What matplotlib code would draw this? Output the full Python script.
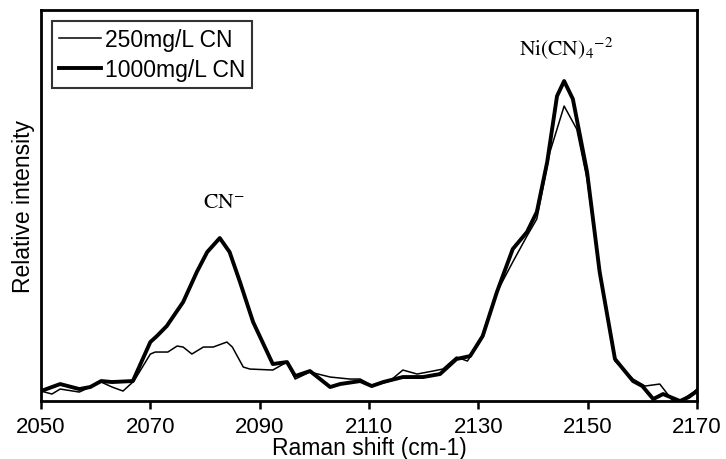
import numpy as np
import matplotlib
matplotlib.use('Agg')
import matplotlib.pyplot as plt

# values (relative intensity, arbitrary units)
shift_thin = [2050, 2052, 2053.5, 2057, 2061, 2063, 2065, 2067, 2070, 2070.9, 2073.2, 2074.9, 2076,
              2077.6, 2079.7, 2081.5, 2084, 2085, 2087, 2088.2, 2092.4, 2095, 2096.5, 2099.2, 2102.9,
              2106.5, 2108.4, 2110.7, 2113.8, 2116.2, 2118.8, 2121.7, 2123.5, 2126, 2128, 2130.3,
              2133.4, 2136.3, 2138.9, 2140.7, 2143.1, 2145.7, 2148, 2149.9, 2152.2, 2155, 2158.3,
              2160.5, 2163.2, 2165.6, 2166.9, 2169.4, 2170]
int_thin = [10, 7, 12, 9, 19, 14, 10, 20, 47, 49, 49, 55, 54,
            47, 54, 54, 59, 54, 34, 32, 31, 39, 22, 29, 24,
            22, 22, 15, 20, 31, 27, 30, 32, 44, 40, 59,
            109, 139, 165, 182, 249, 295, 272, 222, 129, 40, 22,
            15, 17, 0, 0, 9, 12]

shift_thick = [2050, 2053.5, 2057, 2059, 2061, 2063, 2066.8, 2070, 2071.2, 2073, 2076, 2078.5,
               2080.4, 2082.7, 2084.5, 2086.4, 2088.8, 2092.4, 2095, 2096.5, 2099.2, 2102.9,
               2104.7, 2108.4, 2110.5, 2112.6, 2116.2, 2119.9, 2123, 2126, 2128.5, 2130.8,
               2133.4, 2136.3, 2138.9, 2140.7, 2142.6, 2144.4, 2145.7, 2147.3, 2149.9, 2152.2,
               2155, 2158.3, 2160, 2162, 2163.8, 2166.9, 2168.5, 2170]
int_thick = [10, 17, 12, 14, 20, 19, 20, 59, 65, 75, 99, 129,
             149, 163, 149, 119, 79, 37, 39, 25, 30, 14,
             17, 20, 15, 19, 24, 24, 27, 42, 45, 65,
             109, 152, 169, 189, 239, 305, 320, 302, 229, 129,
             42, 20, 15, 2, 7, 0, 4, 10]

xticks = [2050, 2070, 2090, 2110, 2130, 2150, 2170]

plt.rcParams['font.family'] = ['Liberation Sans', 'DejaVu Sans']
plt.rcParams['mathtext.fontset'] = 'stix'

fig = plt.figure(figsize=(7.26, 4.6), dpi=100)
ax = fig.add_axes([0.0565, 0.126, 0.9035, 0.85])

ax.plot(shift_thin, int_thin, color='black', lw=1.1, label='250mg/L CN')
ax.plot(shift_thick, int_thick, color='black', lw=2.8, label='1000mg/L CN')

ax.set_xlim(2050, 2170)
ax.set_ylim(0, 391)
ax.set_xticks(xticks)
ax.set_yticks([])
ax.tick_params(axis='x', direction='out', length=6, width=1.8, labelsize=16, pad=5)
for s in ax.spines.values():
    s.set_linewidth(2)

ax.set_xlabel('Raman shift (cm-1)', fontsize=16.5, labelpad=-1)
ax.set_ylabel('Relative intensity', fontsize=16.5, labelpad=4)

# peak labels (serif, like the original)
ax.text(2083.5, 200, r'$\mathrm{CN}^{-}$', fontsize=15.5, ha='center', va='center')
ax.text(2146, 354, r'$\mathrm{Ni(CN)_4}^{-2}$', fontsize=15.5, ha='center', va='center')

leg = ax.legend(loc='upper left', frameon=True, fancybox=False,
                edgecolor='black', handlelength=1.8, handletextpad=0.2,
                borderpad=0.3, labelspacing=0.3, borderaxespad=0.5,
                prop={'family': 'Liberation Sans', 'size': 16.5})
leg.get_frame().set_linewidth(1.5)

fig.savefig('out.png', dpi=100)
